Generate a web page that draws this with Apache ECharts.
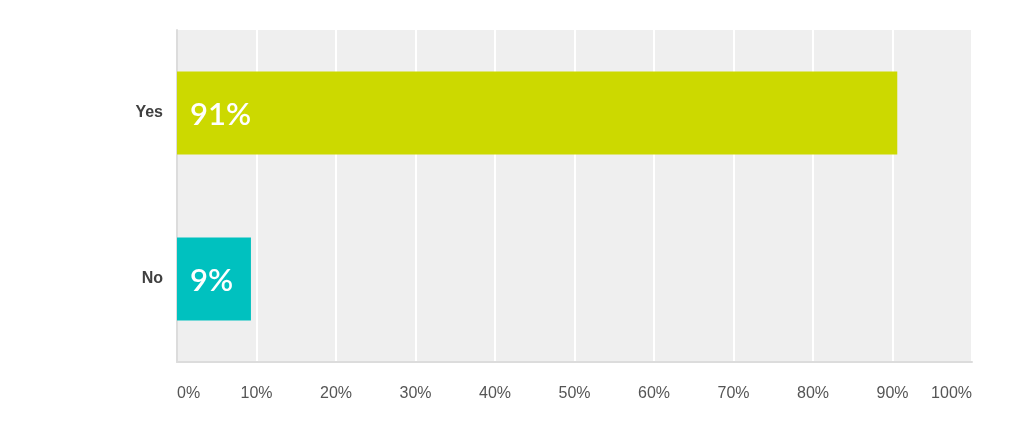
<!DOCTYPE html>
<html>
<head>
<meta charset="utf-8">
<script src="https://cdn.jsdelivr.net/npm/echarts@6/dist/echarts.min.js"></script>
<style>
html,body{margin:0;padding:0;background:#fff;}
#chart{width:1024px;height:438px;}
</style>
</head>
<body>
<div id="chart"></div>
<script>
const categories = ['Yes', 'No'];
const values = [90.6, 9.3];
const barColors = ['#ccd900', '#00c1bf'];
const xTicks = [0, 10, 20, 30, 40, 50, 60, 70, 80, 90, 100];

const chart = echarts.init(document.getElementById('chart'), null, {renderer: 'canvas'});
chart.setOption({
  animation: false,
  grid: {
    left: 177, right: 52, top: 30, bottom: 76,
    show: true, backgroundColor: '#efefef', borderWidth: 0
  },
  xAxis: {
    type: 'value',
    min: xTicks[0], max: xTicks[xTicks.length - 1], interval: 10,
    axisLine: {show: true, lineStyle: {color: '#dcdcdc', width: 2}},
    axisTick: {show: false},
    splitLine: {show: true, lineStyle: {color: '#ffffff', width: 2}},
    axisLabel: {
      formatter: '{value}%', color: '#555', fontSize: 16,
      fontFamily: 'Liberation Sans, Arial, sans-serif', margin: 24,
      alignMinLabel: 'left', alignMaxLabel: 'right'
    }
  },
  yAxis: {
    type: 'category', data: categories, inverse: true,
    axisLine: {show: true, lineStyle: {color: '#dcdcdc', width: 2}},
    axisTick: {show: false},
    axisLabel: {
      color: '#404040', fontSize: 16, fontWeight: 'bold',
      fontFamily: 'Liberation Sans, Arial, sans-serif', margin: 14
    }
  },
  series: [{
    type: 'bar',
    barWidth: '50%',
    data: values.map((v, i) => ({value: v, itemStyle: {color: barColors[i]}})),
    label: {
      show: true, position: 'insideLeft', distance: 13, offset: [0, 2],
      formatter: p => Math.round(p.value) + '%', color: '#fff', fontSize: 31,
      fontFamily: 'Lato, sans-serif', fontWeight: 600
    }
  }]
});
</script>
</body>
</html>
